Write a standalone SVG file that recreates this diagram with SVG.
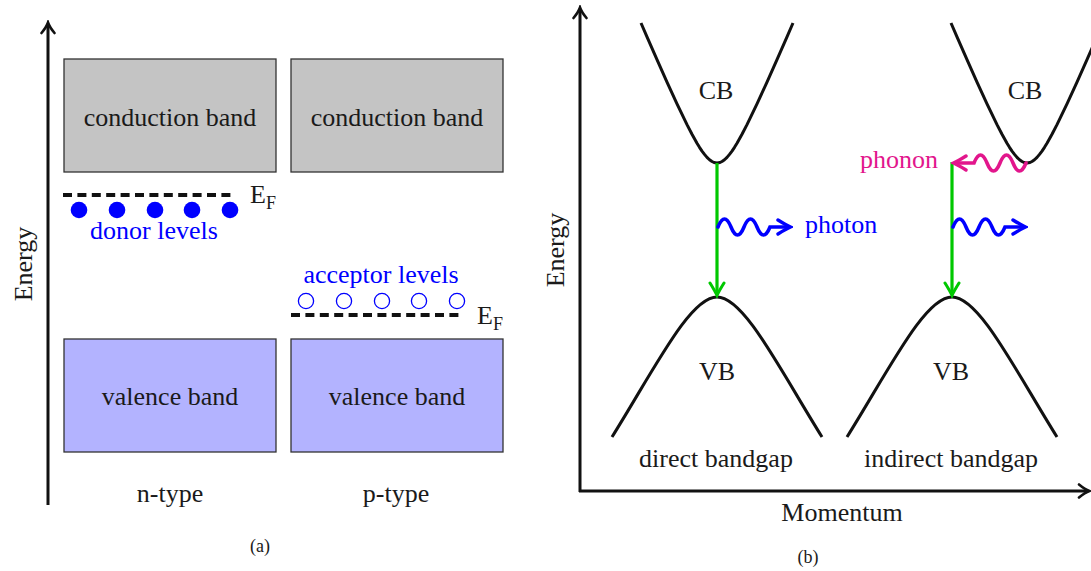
<svg xmlns="http://www.w3.org/2000/svg" width="1091" height="571" viewBox="0 0 1091 571">
<style>
text{font-family:"Liberation Serif","Times New Roman",serif;font-size:26px;fill:#1a1a1a}
.mid{text-anchor:middle}
.small{font-size:18px}
.blue{fill:#0000ff}
.pink{fill:#e2168c}
.cbox{fill:#c4c4c4;stroke:#333;stroke-width:1.3}
.vbox{fill:#b3b3ff;stroke:#333;stroke-width:1.3}
.fermi{stroke:#111;stroke-width:4;stroke-dasharray:9 5.4;fill:none}
.axis{stroke:#111;stroke-width:3;fill:none}
.band{stroke:#111;stroke-width:3;fill:none;stroke-linejoin:round}
.green{stroke:#00c800;stroke-width:3.2;fill:none}
.wblue{stroke:#0000ff;stroke-width:3.6;fill:none;stroke-linecap:round}
.wpink{stroke:#e2168c;stroke-width:3.6;fill:none;stroke-linecap:round}
</style>
<defs>
<marker id="ax" markerUnits="userSpaceOnUse" viewBox="-14 -10 18 20" markerWidth="18" markerHeight="20" refX="0" refY="0" orient="auto">
<path d="M-9,-6.5 Q-3,-1.5 1.5,0 Q-3,1.5 -9,6.5" stroke="#111" stroke-width="2.6" fill="none" stroke-linecap="round"/>
</marker>
<marker id="ag" markerUnits="userSpaceOnUse" viewBox="-14 -10 18 20" markerWidth="18" markerHeight="20" refX="0" refY="0" orient="auto">
<path d="M-11,-7 Q-3,-2 1.5,0 Q-3,2 -11,7" stroke="#00c800" stroke-width="3" fill="none" stroke-linecap="round"/>
</marker>
<marker id="ab" markerUnits="userSpaceOnUse" viewBox="-14 -10 18 20" markerWidth="18" markerHeight="20" refX="0" refY="0" orient="auto">
<path d="M-11,-7 Q-3,-2 1.5,0 Q-3,2 -11,7" stroke="#0000ff" stroke-width="3.4" fill="none" stroke-linecap="round"/>
</marker>
<marker id="ap" markerUnits="userSpaceOnUse" viewBox="-14 -10 18 20" markerWidth="18" markerHeight="20" refX="0" refY="0" orient="auto">
<path d="M-11,-7 Q-3,-2 1.5,0 Q-3,2 -11,7" stroke="#e2168c" stroke-width="3.4" fill="none" stroke-linecap="round"/>
</marker>
</defs>

<!-- Panel (a) -->
<g id="panel-a">
<g id="axis-a">
<line class="axis" x1="48" y1="505" x2="48" y2="24" marker-end="url(#ax)"/>
<text transform="translate(32,264) rotate(-90)" class="mid">Energy</text>
</g>
<g id="cb-n"><rect class="cbox" x="64" y="59" width="212" height="113"/><text x="170" y="126" class="mid">conduction band</text></g>
<g id="cb-p"><rect class="cbox" x="291" y="59" width="212" height="113"/><text x="397" y="126" class="mid">conduction band</text></g>
<g id="vb-n"><rect class="vbox" x="64" y="339" width="212" height="113"/><text x="170" y="405" class="mid">valence band</text></g>
<g id="vb-p"><rect class="vbox" x="291" y="339" width="212" height="113"/><text x="397" y="405" class="mid">valence band</text></g>
<g id="fermi-n">
<line class="fermi" x1="63" y1="195" x2="233" y2="195"/>
<text x="250" y="203">E<tspan class="small" dy="6">F</tspan></text>
</g>
<g id="donor">
<g fill="#0000ff"><circle cx="79" cy="210" r="8.3"/><circle cx="117" cy="210" r="8.3"/><circle cx="155" cy="210" r="8.3"/><circle cx="192" cy="210" r="8.3"/><circle cx="230" cy="210" r="8.3"/></g>
<text x="154" y="239" class="mid blue">donor levels</text>
</g>
<g id="acceptor">
<g fill="none" stroke="#0000ff" stroke-width="1.3"><circle cx="306" cy="301" r="7.6"/><circle cx="344" cy="301" r="7.6"/><circle cx="382" cy="301" r="7.6"/><circle cx="419" cy="301" r="7.6"/><circle cx="457" cy="301" r="7.6"/></g>
<text x="381" y="283" class="mid blue">acceptor levels</text>
</g>
<g id="fermi-p">
<line class="fermi" x1="291" y1="315" x2="461" y2="315"/>
<text x="477" y="324">E<tspan class="small" dy="6">F</tspan></text>
</g>
<text x="170" y="502" class="mid">n-type</text>
<text x="396" y="502" class="mid">p-type</text>
<text x="260" y="552" class="mid small">(a)</text>
</g>

<!-- Panel (b) -->
<g id="panel-b">
<g id="axes-b">
<line class="axis" x1="580" y1="492" x2="580" y2="9" marker-end="url(#ax)"/>
<line class="axis" x1="579" y1="491" x2="1088" y2="491" marker-end="url(#ax)"/>
<text transform="translate(564,250) rotate(-90)" class="mid">Energy</text>
<text x="842" y="521" class="mid">Momentum</text>
</g>
<g id="direct">
<polyline class="band" points="641,23 647,36.8 657,59.6 667,82.1 677,103.9 687,124.6 692,134.3 697,143.2 699.5,147.3 702,151.05 704.5,154.4 707,157.4 709.5,159.75 712,161.5 714,162.5 717,163 720,162.5 722,161.5 724.5,159.75 727,157.4 729.5,154.4 732,151.05 734.5,147.3 737,143.2 742,134.3 747,124.6 757,103.9 767,82.1 777,59.6 787,36.8 793,23"/>
<path class="band" d="M612,437 C655,368 690,297 717,297 C744,297 779,368 822,437"/>
<text x="716" y="99" class="mid">CB</text>
<text x="717" y="380" class="mid">VB</text>
<text x="716" y="467" class="mid">direct bandgap</text>
</g>
<g id="indirect">
<polyline class="band" points="951,23 957,36.8 967,59.6 977,82.1 987,103.9 997,124.6 1002,134.3 1007,143.2 1009.5,147.3 1012,151.05 1014.5,154.4 1017,157.4 1019.5,159.75 1022,161.5 1024,162.5 1027,163 1030,162.5 1032,161.5 1034.5,159.75 1037,157.4 1039.5,154.4 1042,151.05 1044.5,147.3 1047,143.2 1052,134.3 1057,124.6 1067,103.9 1077,82.1 1087,59.6 1097,36.8 1103,23"/>
<path class="band" d="M847,437 C890,368 925,297 952,297 C979,297 1014,368 1057,437"/>
<text x="1025" y="99" class="mid">CB</text>
<text x="951" y="380" class="mid">VB</text>
<text x="951" y="467" class="mid">indirect bandgap</text>
</g>
<g id="connectors">
<line class="green" x1="717" y1="163" x2="717" y2="294" marker-end="url(#ag)"/>
<line class="green" x1="952" y1="162" x2="952" y2="294" marker-end="url(#ag)"/>
<path class="wblue" d="M718,227 q6.5,-16 13,0 t13,0 t13,0 t13,0 L789,227" marker-end="url(#ab)"/>
<path class="wblue" d="M953,227 q6.5,-16 13,0 t13,0 t13,0 t13,0 L1024,227" marker-end="url(#ab)"/>
<path class="wpink" d="M1026,163 q-6.5,16 -13,0 t-13,0 t-13,0 t-13,0 L955,163" marker-end="url(#ap)"/>
</g>
<text x="805" y="233" class="blue">photon</text>
<text x="938" y="168" class="pink" text-anchor="end">phonon</text>
<text x="808" y="563" class="mid small">(b)</text>
</g>
</svg>
